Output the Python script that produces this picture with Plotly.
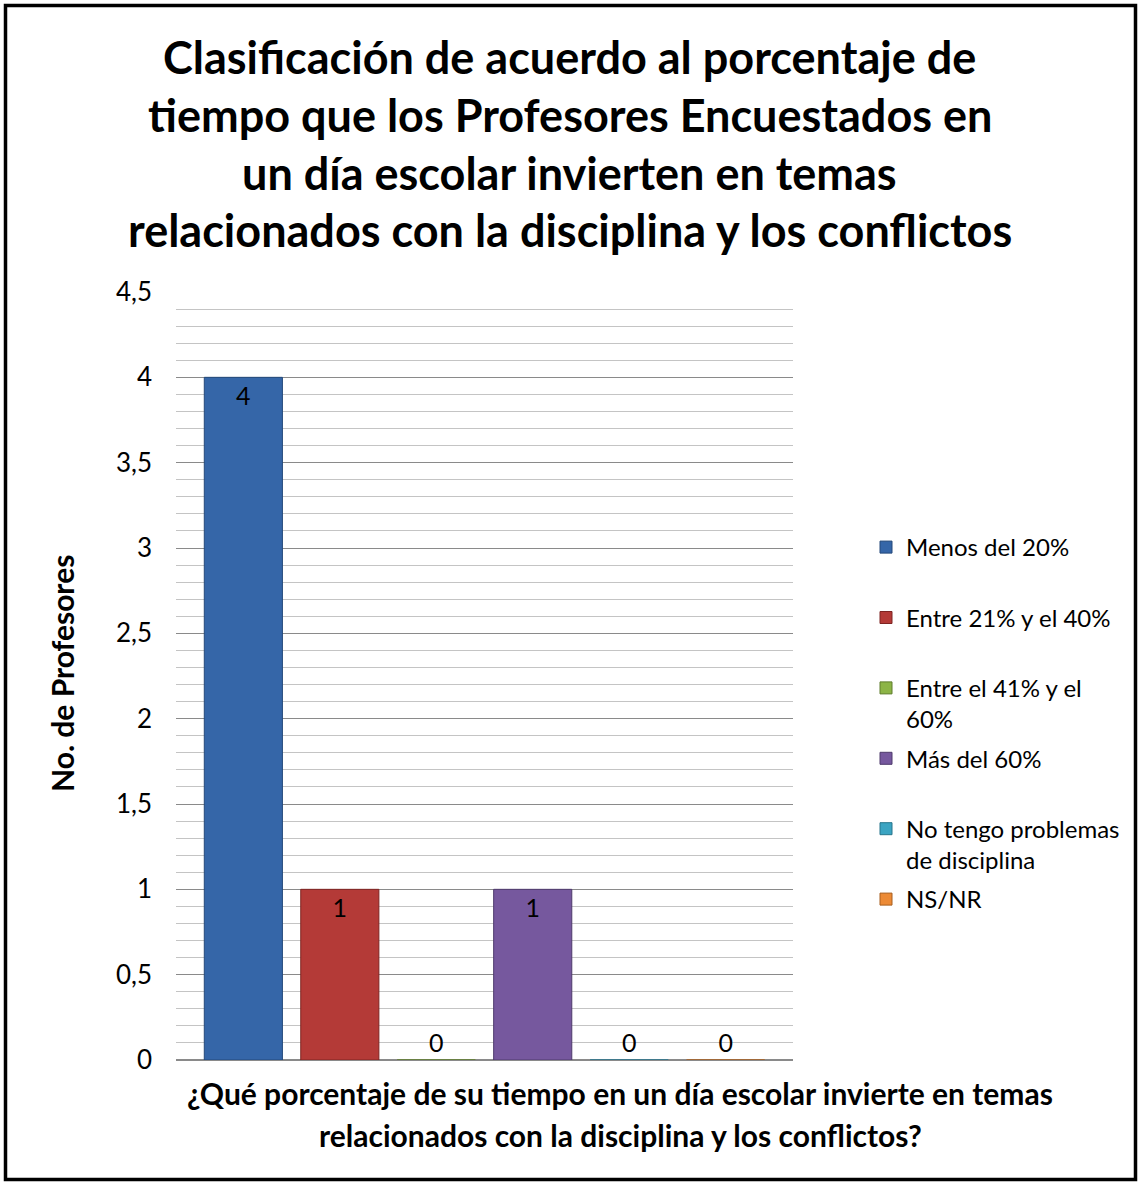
import plotly.graph_objects as go

# ---- data ----
categories = ["Menos del 20%", "Entre 21% y el 40%", "Entre el 41% y el 60%",
              "Más del 60%", "No tengo problemas de disciplina", "NS/NR"]
legend_names = ["Menos del 20%", "Entre 21% y el 40%", "Entre el 41% y el<br>60%",
                "Más del 60%", "No tengo problemas<br>de disciplina", "NS/NR"]
values = [4, 1, 0, 1, 0, 0]
group_label = ["Pregunta"]
title_lines = ["Clasificación de acuerdo al porcentaje de",
               "tiempo que los Profesores Encuestados en",
               "un día escolar invierten en temas",
               "relacionados con la disciplina y los conflictos"]
x_title_lines = ["¿Qué porcentaje de su tiempo en un día escolar invierte en temas",
                 "relacionados con la disciplina y los conflictos?"]
y_title = "No. de Profesores"

colors = ["#3566A8", "#B43A37", "#8CB446", "#76589E", "#3BA4C2", "#EC8A35"]
edges = ["#24497A", "#7E2422", "#5F7D2C", "#4E3A6C", "#26758C", "#A85E1E"]

W, H = 1139, 1183
L, R, T, B = 176, 346, 292, 123
PW, PH = W - L - R, H - T - B

def px_x(p):
    return (p - L) / PW

def px_y(p):
    return (H - B - p) / PH

FONT = "Lato"

def pad2(name):
    # give every legend entry two lines so entries are evenly spaced
    return name if "<br>" in name else name + "<br>\u00a0"

fig = go.Figure()
for i, (name, v) in enumerate(zip(legend_names, values)):
    fig.add_trace(go.Bar(
        x=group_label, y=[v], name=pad2(name),
        marker=dict(color=colors[i], line=dict(color=edges[i], width=1)),
        text=[str(v)], textposition="inside" if v > 0 else "outside",
        insidetextanchor="end",
        textfont=dict(family=FONT, size=25, color="black"),
        outsidetextfont=dict(family=FONT, size=25, color="black"),
        cliponaxis=False,
        legendgroup=str(i),
    ))

annotations = []
title_y = [57, 115, 173, 230]
for line, yy in zip(title_lines, title_y):
    annotations.append(dict(text="<b>" + line + "</b>", x=px_x(W / 2), y=px_y(yy),
                            xref="paper", yref="paper", xanchor="center", yanchor="middle",
                            showarrow=False, font=dict(family=FONT, size=45, color="black")))
for line, yy in zip(x_title_lines, [1093, 1135]):
    annotations.append(dict(text="<b>" + line + "</b>", x=px_x(620), y=px_y(yy),
                            xref="paper", yref="paper", xanchor="center", yanchor="middle",
                            showarrow=False, font=dict(family=FONT, size=30, color="black")))
annotations.append(dict(text="<b>" + y_title + "</b>", x=px_x(62), y=px_y(674),
                        xref="paper", yref="paper", xanchor="center", yanchor="middle",
                        textangle=-90, showarrow=False,
                        font=dict(family=FONT, size=30, color="black")))

fig.update_layout(
    width=W, height=H,
    margin=dict(l=L, r=R, t=T, b=B, autoexpand=False),
    paper_bgcolor="white", plot_bgcolor="white",
    separators=",.",
    barmode="group", bargap=0.062, bargroupgap=0.19,
    font=dict(family=FONT, size=24, color="black"),
    showlegend=True,
    legend=dict(x=px_x(866), y=px_y(525), xanchor="left", yanchor="top",
                font=dict(family=FONT, size=24, color="black"),
                tracegroupgap=5, valign="top", traceorder="grouped",
                itemwidth=30, bgcolor="rgba(0,0,0,0)"),
    xaxis=dict(showticklabels=False, showgrid=False, zeroline=False, showline=False,
               ticks=""),
    yaxis=dict(range=[0, 4.5], dtick=0.5, tick0=0, showgrid=True, gridcolor="#8A8A8A",
               gridwidth=1.3, zeroline=True, zerolinecolor="#8A8A8A", zerolinewidth=1.5,
               showline=False, ticks="", ticklabelstandoff=23,
               tickfont=dict(family=FONT, size=26, color="black"),
               minor=dict(dtick=0.1, tick0=0, showgrid=True, gridcolor="#C4C4C4",
                          gridwidth=1.3)),
    annotations=annotations,
    shapes=[dict(type="rect", xref="paper", yref="paper",
                 x0=px_x(5.5), x1=px_x(1135.5), y0=px_y(1179.5), y1=px_y(5.5),
                 line=dict(color="black", width=3.5), fillcolor="rgba(0,0,0,0)",
                 layer="above")],
)

fig.write_html("out.html", config={"displayModeBar": False},
               post_script="document.body.style.margin='0';document.body.style.padding='0';")
